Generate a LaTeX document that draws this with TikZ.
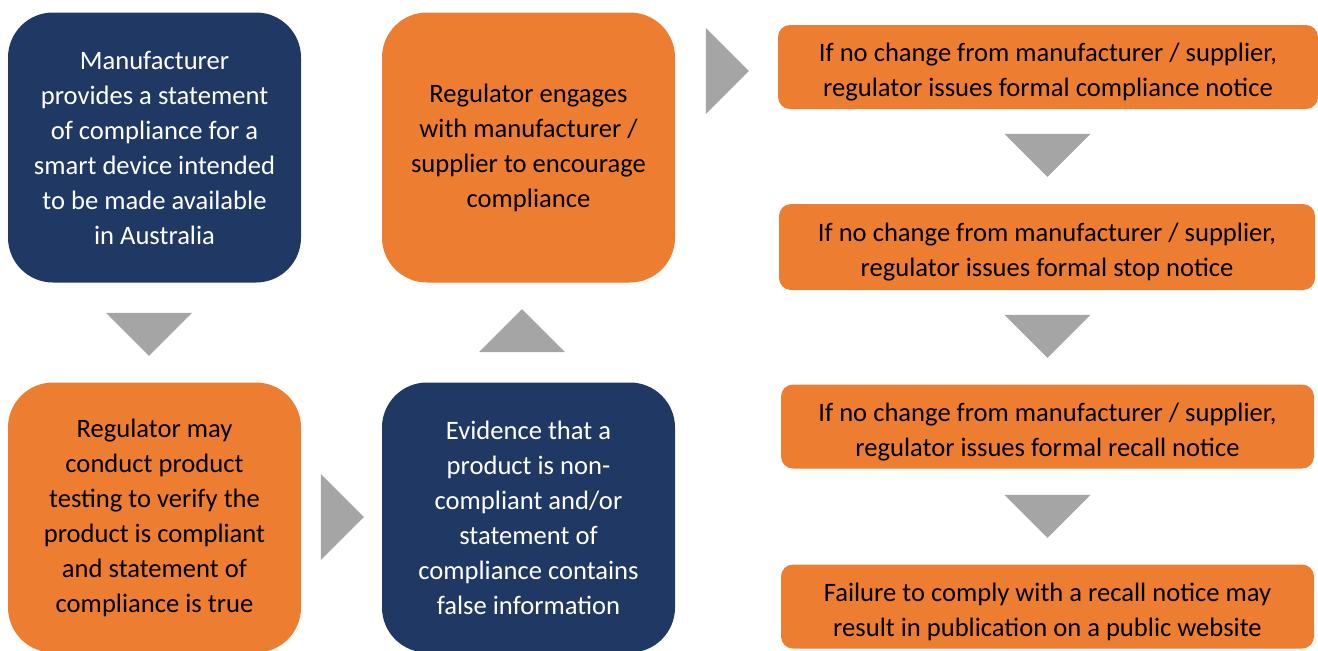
\documentclass[tikz,border=0pt]{standalone}
\usepackage{fontspec}
\setmainfont{Carlito}
\usepackage{tikz}
\usetikzlibrary{shapes}
\definecolor{navy}{HTML}{203864}
\definecolor{orng}{HTML}{ED7D31}
\definecolor{gry}{HTML}{A5A5A5}
\tikzstyle{bigblk}=[rectangle, rounded corners=22.5pt, fill=navy, text=white,% tall box, dark
minimum width=146.5pt, minimum height=135pt, align=center, inner sep=0pt]
\tikzstyle{bigorg}=[bigblk, fill=orng, text=black]
\tikzstyle{widorg}=[rectangle, rounded corners=6pt, fill=orng,% wide box on the right
minimum width=268pt, minimum height=42pt, align=center, inner sep=0pt,
text height=31.9pt]
\tikzstyle{tri}=[isosceles triangle, isosceles triangle stretches, fill=gry,
inner sep=0pt, minimum width=43pt, minimum height=21.5pt, anchor=apex]

\begin{document}
\begin{tikzpicture}[x=0.5pt, y=-0.5pt, every node/.style={font=\fontsize{13.3}{17.5}\selectfont}]
\useasboundingbox (0,0) rectangle (1318,650);
\node[bigblk] (b1) at (154.5,147.5) {Manufacturer\\provides a statement\\of compliance for a\\smart device intended\\to be made available\\in Australia};
\node[bigorg] (b2) at (528.5,147.5) {Regulator engages\\with manufacturer /\\supplier to encourage\\compliance};
\node[bigorg] (b3) at (154.5,517.5) {Regulator may\\conduct product\\testing to verify the\\product is compliant\\and statement of\\compliance is true};
\node[bigblk] (b4) at (528.5,517.5) {Evidence that a\\product is non-\\compliant and/or\\statement of\\compliance contains\\false information};
\node[widorg, minimum width=270pt] (n1) at (1048,67) {If no change from manufacturer / supplier,\\regulator issues formal compliance notice};
\node[widorg, minimum height=43pt] (n2) at (1047,247) {If no change from manufacturer / supplier,\\regulator issues formal stop notice};
\node[widorg, minimum width=266.5pt] (n3) at (1047.5,426.5) {If no change from manufacturer / supplier,\\regulator issues formal recall notice};
\node[widorg, minimum width=266.5pt] (n4) at (1047.5,606.5) {Failure to comply with a recall notice may\\result in publication on a public website};
\node[tri, shape border rotate=270] (a1) at (149,357) {};
\node[tri, shape border rotate=90] (a2) at (522,308) {};
\node[tri] (a3) at (365,517) {};
\node[tri] (a4) at (750,71) {};
\node[tri, shape border rotate=270] (a5) at (1047.5,178) {};
\node[tri, shape border rotate=270] (a6) at (1047.5,359) {};
\node[tri, shape border rotate=270] (a7) at (1047.5,539) {};
\end{tikzpicture}
\end{document}
